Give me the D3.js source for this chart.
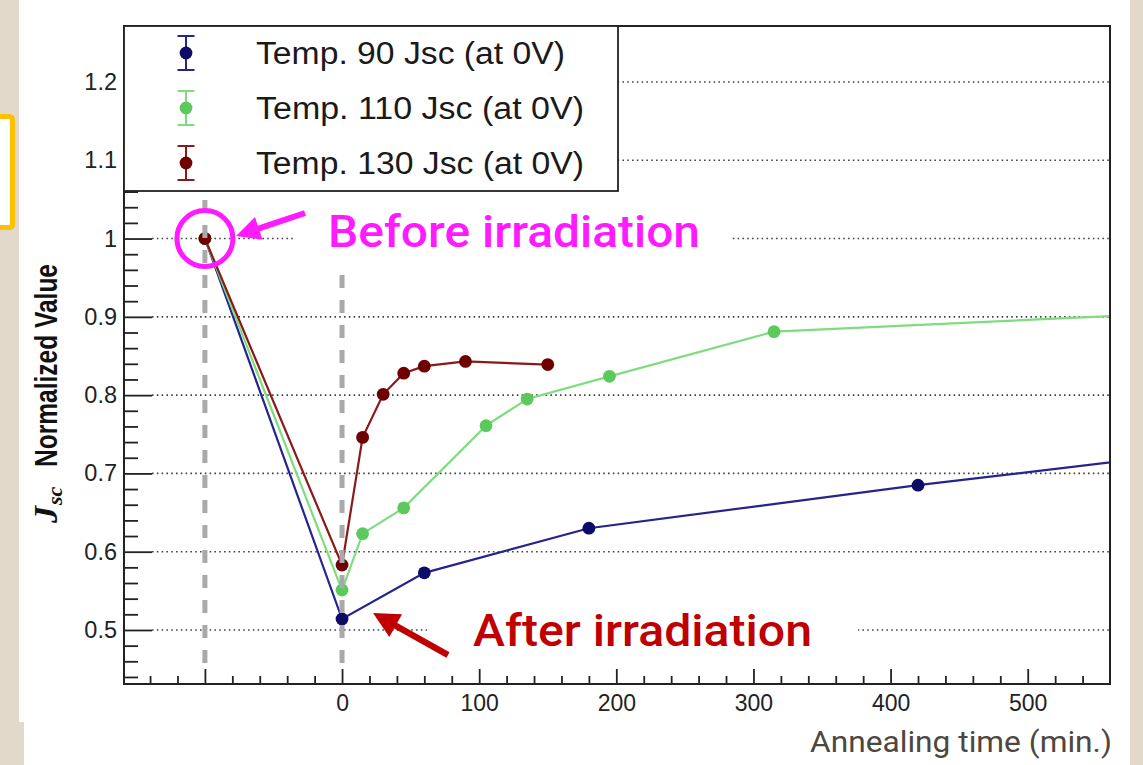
<!DOCTYPE html>
<html>
<head>
<meta charset="utf-8">
<script src="https://cdn.jsdelivr.net/npm/d3@7"></script>
<style>
  html, body { margin: 0; padding: 0; background: #e2d9ca; }
  svg { display: block; }
</style>
</head>
<body>
<svg id="chart" width="1143" height="765"></svg>
<script>
// ---------------- data ----------------
const xTickLabels = [0, 100, 200, 300, 400, 500];
const yTickLabels = [0.5, 0.6, 0.7, 0.8, 0.9, 1.0, 1.1, 1.2];
const seriesNames = ["Temp. 90 Jsc (at 0V)", "Temp. 110 Jsc (at 0V)", "Temp. 130 Jsc (at 0V)"];
const seriesMarkerColors = ["#0c0c66", "#5cc95c", "#6e0000"];
const seriesLineColors = ["#24248c", "#7fdc7f", "#8a1a1a"];

// annealing time (min.), -100 = before irradiation
const time90  = [-100, 0, 60, 180, 420, 1440];
const jsc90   = [1.000, 0.514, 0.573, 0.630, 0.685, 0.896];
const time110 = [-100, 0, 15, 45, 105, 135, 195, 315, 1440];
const jsc110  = [1.000, 0.551, 0.623, 0.656, 0.761, 0.795, 0.824, 0.881, 0.973];
const time130 = [-100, 0, 15, 30, 45, 60, 90, 150];
const jsc130  = [1.000, 0.583, 0.746, 0.801, 0.828, 0.837, 0.843, 0.839];

const series = [
  {name: seriesNames[0], t: time90,  v: jsc90,  mc: seriesMarkerColors[0], lc: seriesLineColors[0]},
  {name: seriesNames[1], t: time110, v: jsc110, mc: seriesMarkerColors[1], lc: seriesLineColors[1]},
  {name: seriesNames[2], t: time130, v: jsc130, mc: seriesMarkerColors[2], lc: seriesLineColors[2]}
];

// ---------------- layout ----------------
const svg = d3.select("#chart");
const L = 124, R = 1110, T = 26, B = 684;
const x = d3.scaleLinear().domain([-159, 560]).range([L, R]);
const y = d3.scaleLinear().domain([0.431, 1.2715]).range([B, T]);

// page background: white slide panel on beige texture
svg.append("rect").attr("x", 0).attr("y", 0).attr("width", 1143).attr("height", 765).attr("fill", "#e2d9ca");
svg.append("rect").attr("x", 19).attr("y", 0).attr("width", 1111).attr("height", 722).attr("fill", "#ffffff");
svg.append("rect").attr("x", 24).attr("y", 721).attr("width", 1106).attr("height", 44).attr("fill", "#ffffff");
// orange highlight box at left edge
svg.append("rect").attr("x", -10).attr("y", 116.5).attr("width", 22.5).attr("height", 111)
  .attr("rx", 3).attr("fill", "#ffffff").attr("stroke", "#ffc000").attr("stroke-width", 5);

// plot background
svg.append("rect").attr("x", L).attr("y", T).attr("width", R - L).attr("height", B - T).attr("fill", "#fff");

// grid (dotted)
svg.append("g").selectAll("line").data(yTickLabels).join("line")
  .attr("x1", L + 28).attr("x2", R)
  .attr("y1", d => y(d)).attr("y2", d => y(d))
  .attr("stroke", "#444").attr("stroke-width", 1.6).attr("stroke-dasharray", "1.6 3.2");

// y axis ticks (inside)
const yMinor = d3.range(0.44, 1.27, 0.02).filter(v => Math.abs(v * 10 - Math.round(v * 10)) > 1e-6);
const yAxisMinor = d3.axisLeft(y).tickValues(yMinor).tickSize(-14).tickFormat("");
const yAxisMajor = d3.axisLeft(y).tickValues(yTickLabels).tickSize(-28).tickPadding(7)
  .tickFormat(d => Math.abs(d - 1) < 1e-9 ? "1" : d.toFixed(1));
const gy1 = svg.append("g").attr("transform", `translate(${L},0)`).call(yAxisMinor);
const gy2 = svg.append("g").attr("transform", `translate(${L},0)`).call(yAxisMajor);
[gy1, gy2].forEach(g => { g.select(".domain").remove(); g.selectAll("line").attr("stroke", "#222").attr("stroke-width", 1.8); });
gy2.selectAll("text").attr("font-family", "'Liberation Sans', Arial, sans-serif").attr("font-size", 23.5).attr("fill", "#222");

// x axis ticks (inside)
const xMinor = d3.range(-140, 560, 20).filter(v => v % 100 !== 0);
const xMajor = [-100].concat(xTickLabels);
const xAxisMinor = d3.axisBottom(x).tickValues(xMinor).tickSize(-8).tickFormat("");
const xAxisMajor = d3.axisBottom(x).tickValues(xMajor).tickSize(-15).tickPadding(11)
  .tickFormat(d => xTickLabels.includes(d) ? String(d) : "");
const gx1 = svg.append("g").attr("transform", `translate(0,${B})`).call(xAxisMinor);
const gx2 = svg.append("g").attr("transform", `translate(0,${B})`).call(xAxisMajor);
[gx1, gx2].forEach(g => { g.select(".domain").remove(); g.selectAll("line").attr("stroke", "#222").attr("stroke-width", 1.8); });
gx2.selectAll("text").attr("font-family", "'Liberation Sans', Arial, sans-serif").attr("font-size", 23).attr("fill", "#222");

// clip
svg.append("clipPath").attr("id", "plotclip").append("rect")
  .attr("x", L).attr("y", T).attr("width", R - L).attr("height", B - T);

// series lines + markers
const line = d3.line().x(d => x(d[0])).y(d => y(d[1]));
const gSeries = svg.append("g").attr("clip-path", "url(#plotclip)");
series.forEach(s => {
  const pts = s.t.map((t, i) => [t, s.v[i]]);
  gSeries.append("path").datum(pts).attr("d", line)
    .attr("fill", "none").attr("stroke", s.lc).attr("stroke-width", 2.2);
});
series.forEach(s => {
  const pts = s.t.map((t, i) => [t, s.v[i]]).filter(p => p[0] <= 560);
  gSeries.append("g").selectAll("circle").data(pts).join("circle")
    .attr("cx", d => x(d[0])).attr("cy", d => y(d[1])).attr("r", 6.4).attr("fill", s.mc);
});

// gray dashed guide lines at "before" and t = 0
svg.append("g").selectAll("line").data([-100, 0]).join("line")
  .attr("x1", d => x(d)).attr("x2", d => x(d))
  .attr("y1", 200).attr("y2", B - 14)
  .attr("stroke", "#a9a9a9").attr("stroke-width", 5).attr("stroke-dasharray", "13 12");

// frame
svg.append("rect").attr("x", L).attr("y", T).attr("width", R - L).attr("height", B - T)
  .attr("fill", "none").attr("stroke", "#222").attr("stroke-width", 2);

// legend
const lg = svg.append("g");
lg.append("rect").attr("x", L).attr("y", T).attr("width", 494).attr("height", 165)
  .attr("fill", "#fff").attr("stroke", "#222").attr("stroke-width", 1.8);
series.forEach((s, i) => {
  const cy = 53 + i * 55, mx = 186;
  lg.append("line").attr("x1", mx).attr("x2", mx).attr("y1", cy - 17).attr("y2", cy + 17).attr("stroke", s.lc).attr("stroke-width", 2);
  lg.append("line").attr("x1", mx - 8.5).attr("x2", mx + 8.5).attr("y1", cy - 17).attr("y2", cy - 17).attr("stroke", s.lc).attr("stroke-width", 2);
  lg.append("line").attr("x1", mx - 8.5).attr("x2", mx + 8.5).attr("y1", cy + 17).attr("y2", cy + 17).attr("stroke", s.lc).attr("stroke-width", 2);
  lg.append("circle").attr("cx", mx).attr("cy", cy).attr("r", 6.4).attr("fill", s.mc);
  lg.append("text").attr("x", 256).attr("y", cy + 11)
    .attr("font-family", "'Liberation Sans', Arial, sans-serif").attr("font-size", 31).attr("fill", "#1a1a1a")
    .attr("textLength", i === 0 ? 309 : 328).attr("lengthAdjust", "spacingAndGlyphs")
    .text(s.name);
});

// annotation: before irradiation
svg.append("rect").attr("x", 294).attr("y", 196).attr("width", 436).attr("height", 76).attr("fill", "#fff");
svg.append("text").attr("x", 328).attr("y", 247)
  .attr("font-family", "Roboto, 'DejaVu Sans', sans-serif").attr("font-weight", 500).attr("font-size", 45)
  .attr("fill", "#ff1aff").attr("textLength", 372).attr("lengthAdjust", "spacingAndGlyphs")
  .text("Before irradiation");
// annotation: after irradiation
svg.append("rect").attr("x", 427).attr("y", 598).attr("width", 431).attr("height", 68).attr("fill", "#fff");
svg.append("text").attr("x", 473).attr("y", 646)
  .attr("font-family", "Roboto, 'DejaVu Sans', sans-serif").attr("font-weight", 500).attr("font-size", 45)
  .attr("fill", "#c00000").attr("textLength", 339).attr("lengthAdjust", "spacingAndGlyphs")
  .text("After irradiation");

function arrow(x1, y1, x2, y2, color, w, hl, hw) {
  const dx = x2 - x1, dy = y2 - y1, len = Math.hypot(dx, dy);
  const ux = dx / len, uy = dy / len;
  const bx = x2 - ux * hl, by = y2 - uy * hl;
  svg.append("line").attr("x1", x1).attr("y1", y1).attr("x2", bx + ux * 2).attr("y2", by + uy * 2)
    .attr("stroke", color).attr("stroke-width", w);
  svg.append("polygon")
    .attr("points", [[x2, y2], [bx - uy * hw / 2, by + ux * hw / 2], [bx + uy * hw / 2, by - ux * hw / 2]].map(p => p.join(",")).join(" "))
    .attr("fill", color);
}
// magenta circle around the "before" point
svg.append("circle").attr("cx", x(-100)).attr("cy", y(1.0)).attr("r", 28)
  .attr("fill", "none").attr("stroke", "#ff1aff").attr("stroke-width", 5);
arrow(305, 213, 236, 236, "#ff1aff", 6, 24, 24);
arrow(448, 655, 373, 613, "#c00000", 6.5, 26, 26);

// axis titles
const yt = svg.append("g").attr("transform", "translate(57,523) rotate(-90)");
yt.append("text").attr("x", 0).attr("y", 0)
  .attr("font-family", "'Liberation Serif', 'Times New Roman', serif").attr("font-style", "italic").attr("font-weight", "bold")
  .attr("font-size", 34).attr("fill", "#111").text("J");
yt.append("text").attr("x", 18).attr("y", 5)
  .attr("font-family", "'Liberation Serif', 'Times New Roman', serif").attr("font-style", "italic").attr("font-weight", "bold")
  .attr("font-size", 22).attr("fill", "#111").text("sc");
yt.append("text").attr("x", 56).attr("y", 0)
  .attr("font-family", "'Liberation Sans', Arial, sans-serif").attr("font-weight", "bold")
  .attr("font-size", 31).attr("fill", "#111").attr("textLength", 203).attr("lengthAdjust", "spacingAndGlyphs")
  .text("Normalized Value");

svg.append("text").attr("x", 810).attr("y", 752)
  .attr("font-family", "Roboto, 'DejaVu Sans', sans-serif").attr("font-size", 29).attr("fill", "#4d4740")
  .attr("textLength", 302).attr("lengthAdjust", "spacingAndGlyphs")
  .text("Annealing time (min.)");
</script>
</body>
</html>
